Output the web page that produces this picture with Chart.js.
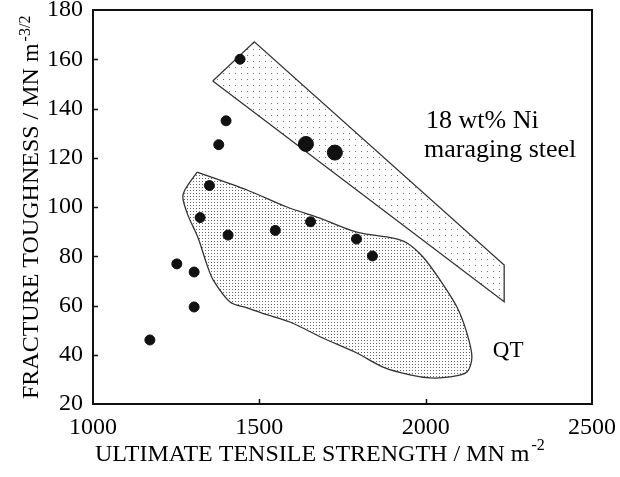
<!DOCTYPE html>
<html>
<head>
<meta charset="utf-8">
<script src="https://cdn.jsdelivr.net/npm/chart.js@4/dist/chart.umd.min.js"></script>
<style>
  body { margin: 0; background: #fff; }
  canvas { display: block; }
</style>
</head>
<body>
<canvas id="toughnessChart" width="620" height="477"></canvas>
<script>
// Data
const smallStrength  = [1442, 1400, 1378, 1350, 1322, 1406, 1548, 1654, 1792, 1840, 1252, 1304, 1304, 1171];
const smallToughness = [160, 135, 125.3, 108.7, 95.7, 88.6, 90.5, 94, 87, 80.1, 76.9, 73.6, 59.4, 46];
const largeStrength  = [1640, 1727];
const largeToughness = [125.6, 122.1];

// 18 wt% Ni maraging steel band
const bandStrength  = [1360, 1485, 2236, 2236, 1360];
const bandToughness = [151.2, 167.1, 76.4, 61.5, 151.2];

// QT steels region
const qtStrength  = [1313, 1463, 1583, 1682, 1793, 1902, 1944, 1992, 2043, 2094, 2124, 2139, 2124, 2073, 2013, 1953, 1872, 1793, 1691, 1592, 1517, 1463, 1412, 1361, 1343, 1316, 1285, 1270, 1276, 1313];
const qtToughness = [114.2, 106.9, 100, 95.5, 89.8, 87.4, 85.4, 79.7, 70.4, 59.4, 48.8, 39.1, 33, 31, 30.6, 31.8, 35, 40.7, 46.8, 53.3, 56.5, 59, 61.4, 70.4, 76.4, 87.4, 96.8, 103.7, 106.9, 114.2];

const xTicks = [1000, 1500, 2000, 2500];
const yTicks = [20, 40, 60, 80, 100, 120, 140, 160, 180];

const toPoints = (xs, ys) => xs.map((x, i) => ({ x: x, y: ys[i] }));

function dotPattern(step, size, color) {
    const c = document.createElement('canvas');
    c.width = step;
    c.height = step;
    const g = c.getContext('2d');
    g.fillStyle = color;
    g.fillRect(1, 1, size, size);
    return g.createPattern(c, 'repeat');
}

const serif = '"Liberation Serif", "Times New Roman", serif';

// frame, inward ticks, axis titles and labels
const decorations = {
    id: 'decorations',
    afterDraw(chart) {
        const ctx = chart.ctx;
        const a = chart.chartArea;
        const xs = chart.scales.x, ys = chart.scales.y;
        ctx.save();
        ctx.strokeStyle = '#111';
        ctx.lineWidth = 2;
        ctx.strokeRect(a.left, a.top, a.right - a.left, a.bottom - a.top);

        ctx.lineWidth = 1.5;
        ctx.beginPath();
        ys.ticks.forEach(t => {
            if (t.value <= ys.min || t.value >= ys.max) return;
            const py = Math.round(ys.getPixelForValue(t.value)) + 0.5;
            ctx.moveTo(a.left, py);
            ctx.lineTo(a.left + 5, py);
        });
        xs.ticks.forEach(t => {
            if (t.value <= xs.min || t.value >= xs.max) return;
            const px = Math.round(xs.getPixelForValue(t.value)) + 0.5;
            ctx.moveTo(px, a.bottom);
            ctx.lineTo(px, a.bottom - 5);
        });
        ctx.stroke();

        ctx.fillStyle = '#000';
        ctx.textBaseline = 'alphabetic';
        ctx.textAlign = 'left';

        // x title
        const xMain = 'ULTIMATE TENSILE STRENGTH / MN m';
        ctx.font = '24px ' + serif;
        const xw = ctx.measureText(xMain).width;
        ctx.fillText(xMain, 95, 461);
        ctx.font = '16px ' + serif;
        ctx.fillText('-2', 95 + xw + 2, 450);

        // y title
        const yMain = 'FRACTURE TOUGHNESS / MN m';
        ctx.font = '24px ' + serif;
        const yw = ctx.measureText(yMain).width;
        ctx.save();
        ctx.translate(38, 399);
        ctx.rotate(-Math.PI / 2);
        ctx.fillText(yMain, 0, 0);
        ctx.font = '16px ' + serif;
        ctx.fillText('-3/2', yw + 2, -8);
        ctx.restore();

        // region labels
        ctx.font = '26px ' + serif;
        ctx.fillText('18 wt% Ni', xs.getPixelForValue(2001), ys.getPixelForValue(132.1));
        ctx.fillText('maraging steel', xs.getPixelForValue(1995), ys.getPixelForValue(120.3));
        ctx.font = '23px ' + serif;
        ctx.fillText('QT', xs.getPixelForValue(2202), ys.getPixelForValue(39.1));
        ctx.restore();
    }
};

new Chart(document.getElementById('toughnessChart'), {
    type: 'scatter',
    data: {
        datasets: [
            {
                label: 'Small points',
                data: toPoints(smallStrength, smallToughness),
                backgroundColor: '#111',
                borderColor: '#111',
                pointRadius: 5,
                order: 0
            },
            {
                label: 'Large points',
                data: toPoints(largeStrength, largeToughness),
                backgroundColor: '#111',
                borderColor: '#111',
                pointRadius: 7.5,
                order: 0
            },
            {
                type: 'line',
                label: 'Maraging steel',
                data: toPoints(bandStrength, bandToughness),
                borderColor: '#333',
                borderWidth: 1.3,
                backgroundColor: dotPattern(6, 1, '#777'),
                fill: 'shape',
                pointRadius: 0,
                tension: 0,
                order: 2
            },
            {
                type: 'line',
                label: 'QT',
                data: toPoints(qtStrength, qtToughness),
                borderColor: '#333',
                borderWidth: 1.3,
                backgroundColor: dotPattern(3, 1, '#666'),
                fill: 'shape',
                pointRadius: 0,
                tension: 0.3,
                order: 2
            }
        ]
    },
    options: {
        responsive: false,
        animation: false,
        layout: { padding: { top: 10, right: 28, left: 45, bottom: 43 } },
        plugins: {
            legend: { display: false },
            tooltip: { enabled: false }
        },
        scales: {
            x: {
                type: 'linear',
                min: 1000,
                max: 2500,
                afterBuildTicks(scale) { scale.ticks = xTicks.map(v => ({ value: v })); },
                afterFit(scale) {
                    scale.height = 30;
                    scale.paddingLeft = 0;
                    scale.paddingRight = 0;
                },
                grid: { display: false, drawTicks: false },
                border: { display: false },
                ticks: {
                    padding: 9,
                    color: '#000',
                    font: { family: serif, size: 24 },
                    callback: v => String(v)
                }
            },
            y: {
                type: 'linear',
                min: 20,
                max: 180,
                afterBuildTicks(scale) { scale.ticks = yTicks.map(v => ({ value: v })); },
                afterFit(scale) {
                    scale.width = 48;
                    scale.paddingTop = 0;
                    scale.paddingBottom = 0;
                },
                grid: { display: false, drawTicks: false },
                border: { display: false },
                ticks: {
                    padding: 10,
                    color: '#000',
                    font: { family: serif, size: 24 },
                    callback: v => String(v)
                }
            }
        }
    },
    plugins: [decorations]
});
</script>
</body>
</html>
